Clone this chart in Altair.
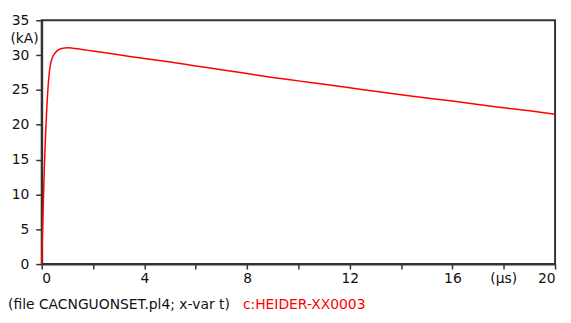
import altair as alt
import pandas as pd

# ---- data ----
t_us = [0, 0.01, 0.02, 0.05, 0.1, 0.15, 0.2, 0.25, 0.3, 0.35, 0.4, 0.5, 0.6, 0.7,
        0.85, 1.0, 1.2, 1.5, 2, 3, 4, 5, 6, 7, 8, 9, 10, 11, 12, 13, 14, 15, 16,
        17, 18, 19, 20]
i_ka = [0, 1.5, 3, 7, 13.5, 18.5, 22.5, 25.5, 27.6, 28.8, 29.5, 30.2, 30.6, 30.85,
        31.0, 31.05, 31.0, 30.85, 30.58, 30.05, 29.5, 29.0, 28.45, 27.9, 27.35,
        26.8, 26.3, 25.8, 25.3, 24.8, 24.3, 23.85, 23.4, 22.9, 22.45, 22.0, 21.5]

x_ticks = [0, 2, 4, 6, 8, 10, 12, 14, 16, 18, 20]
y_ticks = [0, 5, 10, 15, 20, 25, 30, 35]
x_unit = ["(µs)"]
y_unit = ["(kA)"]
footer_black = ["(file CACNGUONSET.pl4; x-var t)"]
footer_red = ["c:HEIDER-XX0003"]

FONT = "DejaVu Sans"
FS = 14
W, H = 518, 246

df = pd.DataFrame({"t": t_us, "i": i_ka})

xscale = alt.Scale(domain=[0, 20], nice=False, zero=False)
yscale = alt.Scale(domain=[0, 35], nice=False)

xaxis = alt.Axis(values=x_ticks, title=None, grid=False, labelOverlap=False,
                 labelExpr="datum.value % 4 == 0 ? datum.label : ''",
                 tickSize=5, tickColor="#333", tickWidth=1.5,
                 domainColor="#333", domainWidth=2,
                 labelFont=FONT, labelFontSize=FS, labelColor="#111",
                 labelPadding=3)
yaxis = alt.Axis(values=y_ticks, title=None, grid=False, labelOverlap=False,
                 tickSize=6, tickColor="#333", tickWidth=1.5,
                 domainColor="#333", domainWidth=2,
                 labelFont=FONT, labelFontSize=FS, labelColor="#111",
                 labelPadding=7)

line = alt.Chart(df).mark_line(color="#ff0000", strokeWidth=1.5, interpolate="monotone").encode(
    x=alt.X("t:Q", scale=xscale, axis=xaxis),
    y=alt.Y("i:Q", scale=yscale, axis=yaxis),
)

xu = alt.Chart(pd.DataFrame({"t": [18], "lab": x_unit})).mark_text(
    font=FONT, fontSize=FS, color="#111", baseline="top", align="center"
).encode(x=alt.X("t:Q", scale=xscale, axis=xaxis), y=alt.value(H + 8), text="lab:N")

yu = alt.Chart(pd.DataFrame({"v": [32.3], "lab": y_unit})).mark_text(
    font=FONT, fontSize=FS, color="#111", baseline="middle", align="right"
).encode(y=alt.Y("v:Q", scale=yscale, axis=yaxis), x=alt.value(-3), text="lab:N")

fb = alt.Chart(pd.DataFrame({"lab": footer_black})).mark_text(
    font=FONT, fontSize=FS, color="#111", baseline="middle", align="left"
).encode(x=alt.value(-34), y=alt.value(H + 41), text="lab:N")

fr = alt.Chart(pd.DataFrame({"lab": footer_red})).mark_text(
    font=FONT, fontSize=FS, color="#ff0000", baseline="middle", align="left"
).encode(x=alt.value(203), y=alt.value(H + 41), text="lab:N")

chart = alt.layer(line, xu, yu, fb, fr).properties(
    width=W, height=H,
    autosize=alt.AutoSizeParams(type="none"),
    padding={"left": 34, "top": 11, "right": 8, "bottom": 50},
).configure(background="white").configure_view(stroke="#333", strokeWidth=2)

chart.save("out.html", embed_options={"renderer": "svg", "actions": False})
